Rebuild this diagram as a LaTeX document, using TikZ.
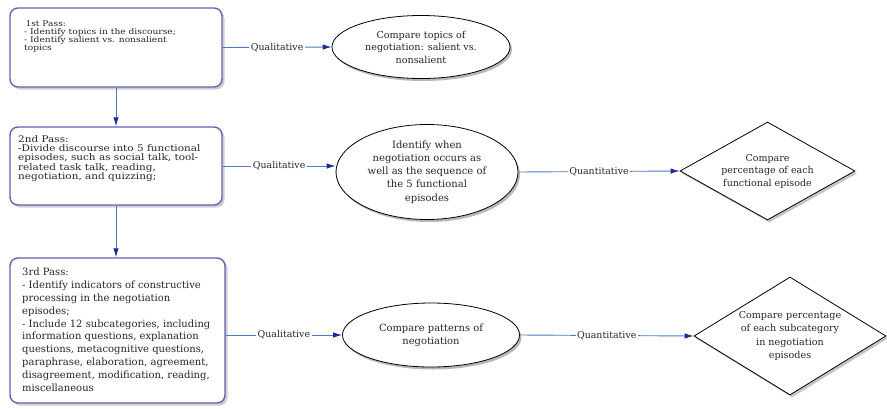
\documentclass[tikz,border=0pt]{standalone}
\usepackage{fontspec}
\setmainfont{DejaVu Serif}
\newfontfamily\wideserif{DejaVu Serif}[FakeStretch=1.15]
\usetikzlibrary{shapes.geometric,shadows,arrows.meta,calc}
\definecolor{boxline}{RGB}{104,96,176}
\definecolor{connline}{RGB}{84,120,190}
\definecolor{tipblue}{RGB}{30,45,150}
\definecolor{shadowgray}{RGB}{160,160,160}
\tikzset{
  passbox/.style={draw=boxline, line width=1.4pt, rounded corners=8pt, fill=white,
    drop shadow={shadow xshift=2.5pt, shadow yshift=-2.5pt, fill=shadowgray},
    inner sep=0pt},
  passtext/.style={anchor=north west, align=left, inner sep=0pt, text=black!85},
  ovalnode/.style={ellipse, draw=black, line width=0.8pt, fill=white,
    drop shadow={shadow xshift=2pt, shadow yshift=-2.5pt, fill=black!55},
    inner sep=0pt, align=center, text=black!85},
  rhombus/.style={diamond, draw=black, line width=0.8pt, fill=white,
    drop shadow={shadow xshift=2pt, shadow yshift=-2.5pt, fill=black!45},
    inner sep=0pt, align=center, text=black!85},
  conn/.style={draw=connline, line width=0.9pt, -{Latex[length=9pt,width=5.5pt,color=tipblue]}},
  lbl/.style={fill=white, inner sep=1.5pt, text=black!85, font=\fontsize{9.4}{10}\selectfont},
}
\begin{document}
\begin{tikzpicture}[x=1pt,y=1pt]
\useasboundingbox[fill=white] (0,0) rectangle (887,-408);

% pass boxes
\node[passbox, minimum width=212pt, minimum height=79pt] (b1) at (116,-47.5) {};
\node[passtext, font=\wideserif\fontsize{7.9}{8.2}\selectfont] (t1) at (24,-20)
  {\,1st Pass:\\- Identify topics in the discourse;\\- Identify salient vs. nonsalient\\topics};
\node[passbox, minimum width=212pt, minimum height=78pt] (b2) at (116,-166) {};
\node[passtext, font=\wideserif\fontsize{9.1}{9.4}\selectfont] (t2) at (18,-135)
  {2nd Pass:\\-Divide discourse into 5 functional\\episodes, such as social talk, tool-\\related task talk, reading,\\negotiation, and quizzing;};
\node[passbox, minimum width=215pt, minimum height=145pt] (b3) at (117.5,-330.5) {};
\node[passtext, font=\fontsize{10}{12.8}\selectfont] (t3) at (22,-268)
  {3rd Pass:\\- Identify indicators of constructive\\processing in the negotiation\\episodes;\\- Include 12 subcategories, including\\information questions, explanation\\questions, metacognitive questions,\\paraphrase, elaboration, agreement,\\disagreement, modification, reading,\\miscellaneous};

% ellipses
\node[ovalnode, minimum width=178pt, minimum height=63pt, font=\fontsize{9.6}{12.5}\selectfont] (e1) at (421,-47)
  {Compare topics of\\negotiation: salient vs.\\nonsalient};
\node[ovalnode, minimum width=182pt, minimum height=95pt, font=\fontsize{10}{13.2}\selectfont] (e2) at (427,-172)
  {Identify when\\negotiation occurs as\\well as the sequence of\\the 5 functional\\episodes};
\node[ovalnode, minimum width=177pt, minimum height=64pt, font=\fontsize{9.9}{13}\selectfont] (e3) at (431,-335)
  {Compare patterns of\\negotiation};

% diamonds
\node[rhombus, aspect=1.8, minimum width=175pt, minimum height=98pt, font=\fontsize{9.5}{12.5}\selectfont] (d1) at (767.5,-171)
  {Compare\\percentage of each\\functional episode};
\node[rhombus, aspect=1.6, minimum width=192pt, minimum height=118pt, font=\fontsize{9.6}{13.3}\selectfont] (d2) at (790,-336)
  {Compare percentage\\of each subcategory\\in negotiation\\episodes};

% connectors
\draw[conn] (b1.south) -- (b2.north);
\draw[conn] (b2.south) -- (b2.south |- b3.north);
\draw[conn] (b1.east) -- node[lbl] {Qualitative} (e1.west);
\draw[conn] (b2.east) -- node[lbl] {Qualitative} (b2.east -| e2.west);
\draw[conn] (b3.east |- e3.west) -- node[lbl] {Qualitative} (e3.west);
\draw[conn] (e2.east) -- node[lbl] {Quantitative} (d1.west);
\draw[conn] (e3.east) -- node[lbl] {Quantitative} (d2.west);
\end{tikzpicture}
\end{document}
